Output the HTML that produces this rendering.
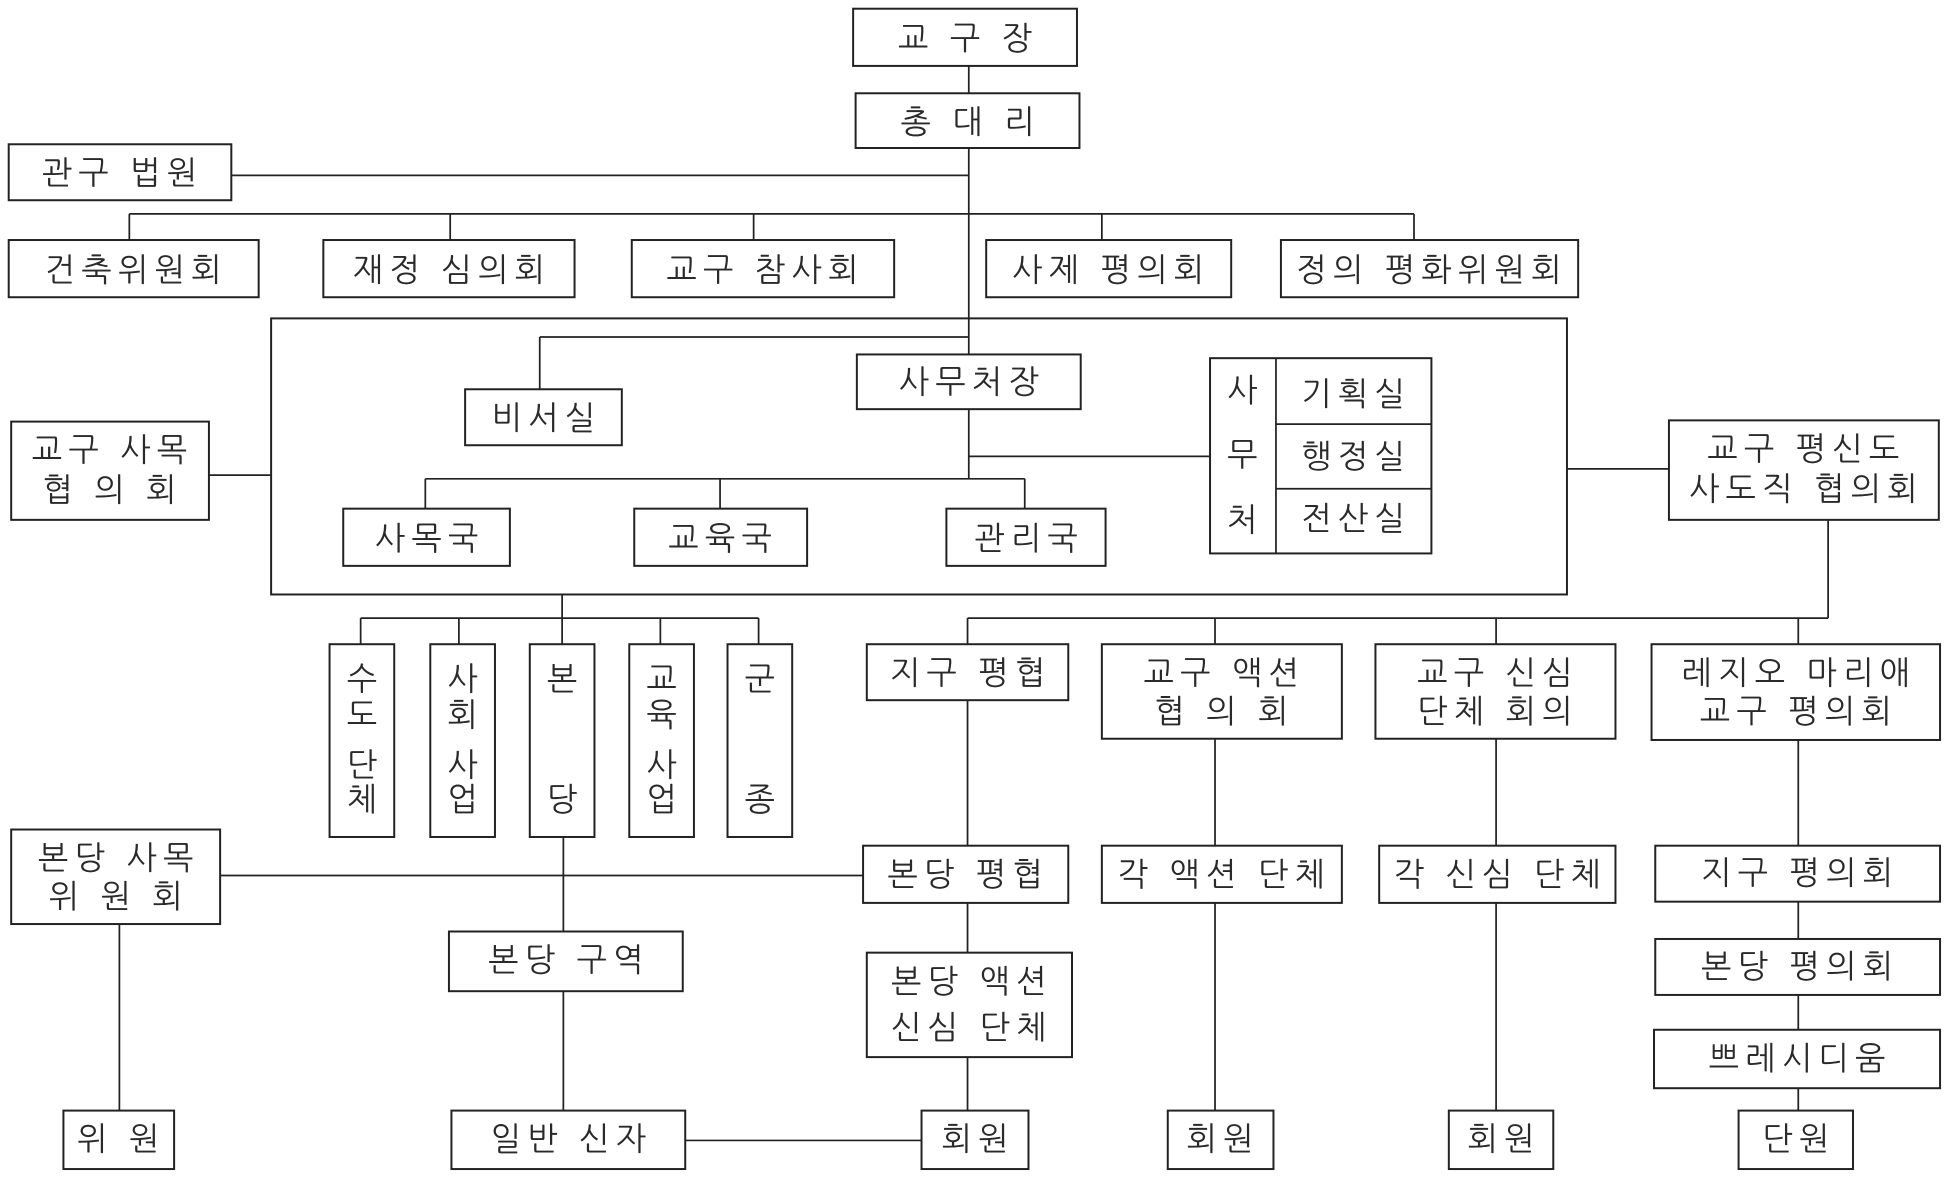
<!DOCTYPE html>
<html><head><meta charset="utf-8"><style>
html,body{margin:0;padding:0;background:#fff;}
svg{display:block;}
text{font-family:"Liberation Sans","NanumGothic","Noto Sans CJK KR",sans-serif;font-size:26px;fill:#2a2a2a;text-anchor:middle;dominant-baseline:central;letter-spacing:5px;}
rect{fill:#fff;stroke:#222;stroke-width:1.6;}
line,path{stroke:#222;stroke-width:1.4;fill:none;}
g.t text{transform:translateX(2.5px);}
</style></head><body>
<svg width="1950" height="1178" viewBox="0 0 1568 947.2" preserveAspectRatio="none">
<path d="M779 53V285 M186 141H779 M104 172H1137 M104 172V193 M362 172V193 M606 172V193 M886 172V193 M1137 172V193"/>
<path d="M434 271H779 M434 271V313 M779 329V385 M779 367H973 M342 385H824 M342 385V409 M579 385V409 M824 385V409"/>
<path d="M168 382H218 M1260 377H1342"/>
<path d="M452 478V497 M290 497H610 M290 497V518 M369 497V518 M452 497V518 M531 497V518 M610 497V518"/>
<path d="M1470 418V497 M778 497H1470 M778 497V518 M977 497V518 M1203 497V518 M1446 497V518"/>
<path d="M177 704H694 M96 743V893 M453 673V749 M453 797V893 M551 917H741"/>
<path d="M778 563V680 M778 726V766 M778 850V893 M977 594V680 M977 726V893 M1203 594V680 M1203 726V893 M1446 595V680 M1446 725V755 M1446 800V828 M1446 875V893"/>
<rect x="218" y="256" width="1042" height="222" style="fill:none"/>
<rect x="686" y="7" width="180" height="46"/>
<rect x="688" y="75" width="180" height="44"/>
<rect x="7" y="116" width="179" height="45"/>
<rect x="7" y="193" width="201" height="46"/>
<rect x="260" y="193" width="202" height="46"/>
<rect x="508" y="193" width="211" height="46"/>
<rect x="793" y="193" width="197" height="46"/>
<rect x="1030" y="193" width="239" height="46"/>
<rect x="374" y="313" width="126" height="45"/>
<rect x="689" y="285" width="180" height="44"/>
<rect x="973" y="288" width="178" height="157"/>
<line x1="1026" y1="288" x2="1026" y2="445"/><line x1="1026" y1="341" x2="1151" y2="341"/><line x1="1026" y1="393" x2="1151" y2="393"/>
<rect x="276" y="409" width="134" height="46"/>
<rect x="510" y="409" width="139" height="46"/>
<rect x="761" y="409" width="128" height="46"/>
<rect x="9" y="339" width="159" height="79"/>
<rect x="1342" y="338" width="217" height="80"/>
<rect x="265" y="518" width="52" height="155"/>
<rect x="346" y="518" width="52" height="155"/>
<rect x="426" y="518" width="52" height="155"/>
<rect x="506" y="518" width="52" height="155"/>
<rect x="585" y="518" width="52" height="155"/>
<rect x="697" y="518" width="162" height="45"/>
<rect x="886" y="518" width="193" height="76"/>
<rect x="1106" y="518" width="193" height="76"/>
<rect x="1328" y="518" width="232" height="77"/>
<rect x="694" y="680" width="165" height="46"/>
<rect x="886" y="680" width="193" height="46"/>
<rect x="1109" y="680" width="190" height="46"/>
<rect x="1331" y="680" width="229" height="45"/>
<rect x="697" y="766" width="165" height="84"/>
<rect x="1331" y="755" width="229" height="45"/>
<rect x="1330" y="828" width="230" height="47"/>
<rect x="9" y="667" width="168" height="76"/>
<rect x="361" y="749" width="188" height="48"/>
<rect x="51" y="893" width="89" height="47"/>
<rect x="363" y="893" width="188" height="47"/>
<rect x="741" y="893" width="86" height="47"/>
<rect x="939" y="893" width="85" height="47"/>
<rect x="1165" y="893" width="84" height="47"/>
<rect x="1398" y="893" width="92" height="47"/>
<g class="t">
<text x="776" y="31">교 구 장</text>
<text x="778" y="98">총 대 리</text>
<text x="96" y="139">관구 법원</text>
<text x="107" y="217">건축위원회</text>
<text x="361" y="217">재정 심의회</text>
<text x="613" y="217">교구 참사회</text>
<text x="891" y="217">사제 평의회</text>
<text x="1149" y="217">정의 평화위원회</text>
<text x="437" y="336">비서실</text>
<text x="779" y="307">사무처장</text>
<text x="999" y="314">사</text><text x="999" y="366">무</text><text x="999" y="418">처</text>
<text x="1088" y="317">기획실</text><text x="1088" y="367">행정실</text><text x="1088" y="417">전산실</text>
<text x="343" y="433">사목국</text>
<text x="579" y="433">교육국</text>
<text x="825" y="433">관리국</text>
<text x="88" y="362">교구 사목</text><text x="88" y="394">협 의 회</text>
<text x="1450" y="361">교구 평신도</text><text x="1450" y="393">사도직 협의회</text>
<text x="291" y="546">수</text><text x="291" y="575">도</text><text x="291" y="615">단</text><text x="291" y="643">체</text>
<text x="372" y="546">사</text><text x="372" y="575">회</text><text x="372" y="615">사</text><text x="372" y="643">업</text>
<text x="452" y="546">본</text><text x="452" y="643">당</text>
<text x="532" y="546">교</text><text x="532" y="575">육</text><text x="532" y="615">사</text><text x="532" y="643">업</text>
<text x="611" y="546">군</text><text x="611" y="643">종</text>
<text x="778" y="541">지구 평협</text>
<text x="982" y="541">교구 액션</text><text x="982" y="572">협 의 회</text>
<text x="1202" y="541">교구 신심</text><text x="1202" y="572">단체 회의</text>
<text x="1444" y="541">레지오 마리애</text><text x="1444" y="572">교구 평의회</text>
<text x="776" y="703">본당 평협</text>
<text x="982" y="703">각 액션 단체</text>
<text x="1204" y="703">각 신심 단체</text>
<text x="1445" y="702">지구 평의회</text>
<text x="779" y="789">본당 액션</text><text x="779" y="826">신심 단체</text>
<text x="1445" y="777">본당 평의회</text>
<text x="1445" y="851">쁘레시디움</text>
<text x="93" y="690">본당 사목</text><text x="93" y="721">위 원 회</text>
<text x="455" y="772">본당 구역</text>
<text x="95" y="916">위 원</text>
<text x="457" y="916">일반 신자</text>
<text x="784" y="916">회원</text>
<text x="981" y="916">회원</text>
<text x="1207" y="916">회원</text>
<text x="1444" y="916">단원</text>
</g>
</svg>
</body></html>
